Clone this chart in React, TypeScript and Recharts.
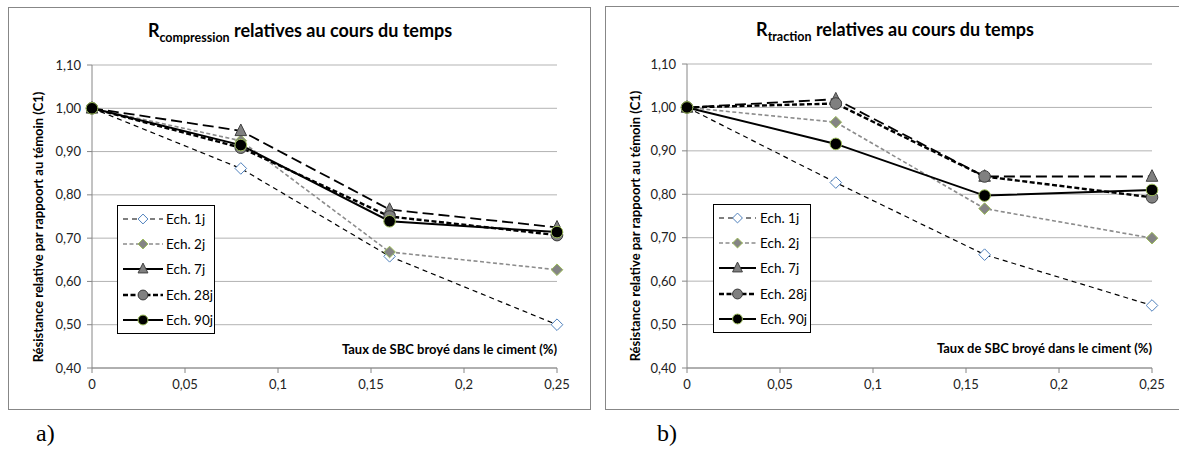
import React from "react";
import { CartesianGrid, Legend, Line, LineChart, XAxis, YAxis } from "recharts";

// taux de SBC broyé (axe x)
const tauxSBC = [0, 0.08, 0.16, 0.25];
const xTicks = [0, 0.05, 0.1, 0.15, 0.2, 0.25];
const yTicks = [0.4, 0.5, 0.6, 0.7, 0.8, 0.9, 1.0, 1.1];
const seriesNames = ["Ech. 1j", "Ech. 2j", "Ech. 7j", "Ech. 28j", "Ech. 90j"];

// a) résistance en compression relative
const compression1j = [1.0, 0.861, 0.658, 0.5];
const compression2j = [1.0, 0.925, 0.668, 0.627];
const compression7j = [1.0, 0.948, 0.766, 0.725];
const compression28j = [1.0, 0.909, 0.75, 0.707];
const compression90j = [1.0, 0.915, 0.739, 0.714];

// b) résistance en traction relative
const traction1j = [1.0, 0.827, 0.661, 0.544];
const traction2j = [1.0, 0.966, 0.767, 0.699];
const traction7j = [1.0, 1.019, 0.841, 0.841];
const traction28j = [1.0, 1.009, 0.841, 0.793];
const traction90j = [1.0, 0.916, 0.797, 0.81];

const FONT = "Lato, 'Open Sans', sans-serif";
const AXIS = "#868686";

type Kind = "diamondOpen" | "diamondFill" | "triangle" | "circleGray" | "circleBlack";

const styles: { kind: Kind; stroke: string; width: number; dash?: string; legendDash?: string }[] = [
  { kind: "diamondOpen", stroke: "#000", width: 1.2, dash: "5 4", legendDash: "5 4" },
  { kind: "diamondFill", stroke: "#8c8c8c", width: 1.6, dash: "4 2.5", legendDash: "4 2.5" },
  { kind: "triangle", stroke: "#000", width: 1.8, dash: "11 5" },
  { kind: "circleGray", stroke: "#000", width: 2.4, dash: "5 2.5", legendDash: "5 2.5" },
  { kind: "circleBlack", stroke: "#000", width: 2 },
];

function Marker({ cx, cy, kind, s = 1 }: { cx: number; cy: number; kind: Kind; s?: number }) {
  if (cx == null || cy == null) return null;
  const r = 5.8 * s;
  if (kind === "diamondOpen")
    return <path d={`M${cx},${cy - r} L${cx + r},${cy} L${cx},${cy + r} L${cx - r},${cy} Z`} fill="#fff" stroke="#4f81bd" strokeWidth={1} />;
  if (kind === "diamondFill")
    return <path d={`M${cx},${cy - r} L${cx + r},${cy} L${cx},${cy + r} L${cx - r},${cy} Z`} fill="#848484" stroke="#9bbb59" strokeWidth={1} />;
  if (kind === "triangle")
    return <path d={`M${cx},${cy - r - 1} L${cx + r},${cy + r - 1} L${cx - r},${cy + r - 1} Z`} fill="#808080" stroke="#404040" strokeWidth={1} />;
  if (kind === "circleGray") return <circle cx={cx} cy={cy} r={r} fill="#808080" stroke="#3a3a3a" strokeWidth={1} />;
  return <circle cx={cx} cy={cy} r={r} fill="#000" stroke="#9bbb59" strokeWidth={1} />;
}

const dotFor = (kind: Kind) => (p: any) => <Marker key={`${kind}-${p.index}`} cx={p.cx} cy={p.cy} kind={kind} />;

const fmtY = (v: number) => v.toFixed(2).replace(".", ",");
const fmtX = (v: number) => String(v).replace(".", ",");

function LegendBox({ lineW, gap }: { lineW: number; gap: number }) {
  return (
    <div style={{ border: "1px solid #000", background: "#fff", padding: "0 5px", width: 98, boxSizing: "border-box", fontFamily: FONT, fontSize: 13.5, color: "#000" }}>
      {seriesNames.map((name, i) => {
        const st = styles[i];
        return (
          <div key={name} style={{ display: "flex", alignItems: "center", height: 25.4 }}>
            <svg width={lineW} height={14} style={{ flexShrink: 0 }}>
              <line x1={0} y1={7} x2={lineW} y2={7} stroke={st.stroke} strokeWidth={st.width} strokeDasharray={st.legendDash} />
              <Marker cx={lineW / 2} cy={7} kind={st.kind} s={0.85} />
            </svg>
            <span style={{ marginLeft: gap, whiteSpace: "nowrap" }}>{name}</span>
          </div>
        );
      })}
    </div>
  );
}

function Panel({
  values, title, sub, left, top, width, height, chartW, margin, titleX, legendPos, legendLineW, legendGap, caption, captionX,
}: any) {
  const rows = tauxSBC.map((x, i) => {
    const r: any = { x };
    values.forEach((arr: number[], k: number) => (r[`s${k}`] = arr[i]));
    return r;
  });
  const plotRight = chartW - margin.right;
  return (
    <>
      <div style={{ position: "absolute", left, top, width, height, border: "1px solid #878787", overflow: "hidden", background: "#fff" }}>
        <div style={{ position: "absolute", left: titleX - 200, width: 400, top: 11, textAlign: "center", fontFamily: FONT, fontWeight: 700, fontSize: 18, color: "#000" }}>
          R<sub style={{ fontSize: 12.5 }}>{sub}</sub> {title}
        </div>
        <div
          style={{
            position: "absolute", left: 29 - 200, top: 220 - 9, width: 400, textAlign: "center", transform: "rotate(-90deg)",
            fontFamily: FONT, fontWeight: 700, fontSize: 13, color: "#000", whiteSpace: "nowrap",
          }}
        >
          Résistance relative par rappoort au témoin (C1)
        </div>
        <div style={{ position: "absolute", right: chartW - plotRight + (width - chartW), top: 333, fontFamily: FONT, fontWeight: 700, fontSize: 13, color: "#000", whiteSpace: "nowrap" }}>
          Taux de SBC broyé dans le ciment (%)
        </div>
        <LineChart width={chartW} height={height} data={rows} margin={margin} style={{ position: "absolute", left: 0, top: 0 }}>
          <CartesianGrid vertical={false} stroke="#b3b3b3" />
          <XAxis
            dataKey="x" type="number" domain={[0, 0.25]} ticks={xTicks} tickFormatter={fmtX}
            stroke={AXIS} tickSize={5} tickMargin={7} height={30}
            tick={{ fill: "#222", fontSize: 13, fontFamily: FONT }}
          />
          <YAxis
            type="number" domain={[0.4, 1.1]} ticks={yTicks} tickFormatter={fmtY} width={margin.yw}
            stroke={AXIS} tickSize={5} tickMargin={6}
            tick={{ fill: "#222", fontSize: 13, fontFamily: FONT }}
          />
          {values.map((_: number[], k: number) => (
            <Line
              key={k} dataKey={`s${k}`} name={seriesNames[k]} type="linear" isAnimationActive={false}
              stroke={styles[k].stroke} strokeWidth={styles[k].width} strokeDasharray={styles[k].dash}
              dot={dotFor(styles[k].kind)} activeDot={false}
            />
          ))}
          <Legend
            layout="vertical" align="center" verticalAlign="middle"
            wrapperStyle={{ left: legendPos[0], top: legendPos[1], width: "auto" }}
            content={() => <LegendBox lineW={legendLineW} gap={legendGap} />}
          />
        </LineChart>
      </div>
      <div style={{ position: "absolute", left: captionX, top: 420, fontFamily: "'Liberation Serif', 'Times New Roman', serif", fontSize: 24, color: "#000" }}>
        {caption}
      </div>
    </>
  );
}

export default function App() {
  return (
    <div style={{ position: "fixed", left: 0, top: 0, width: 1179, height: 451, overflow: "hidden", background: "#fff" }}>
      <Panel
        values={[compression1j, compression2j, compression7j, compression28j, compression90j]}
        sub="compression" title="relatives au cours du temps"
        left={8} top={7} width={581} height={401} chartW={581}
        margin={{ top: 57, right: 33, bottom: 11, left: 0, yw: 83 }}
        titleX={291} legendPos={[108, 197]} legendLineW={40} legendGap={3}
        caption="a)" captionX={36}
      />
      <Panel
        values={[traction1j, traction2j, traction7j, traction28j, traction90j]}
        sub="traction" title="relatives au cours du temps"
        left={605} top={6} width={600} height={402} chartW={600}
        margin={{ top: 57, right: 54, bottom: 11, left: 0, yw: 81 }}
        titleX={289} legendPos={[107, 197]} legendLineW={37} legendGap={4}
        caption="b)" captionX={657}
      />
    </div>
  );
}
